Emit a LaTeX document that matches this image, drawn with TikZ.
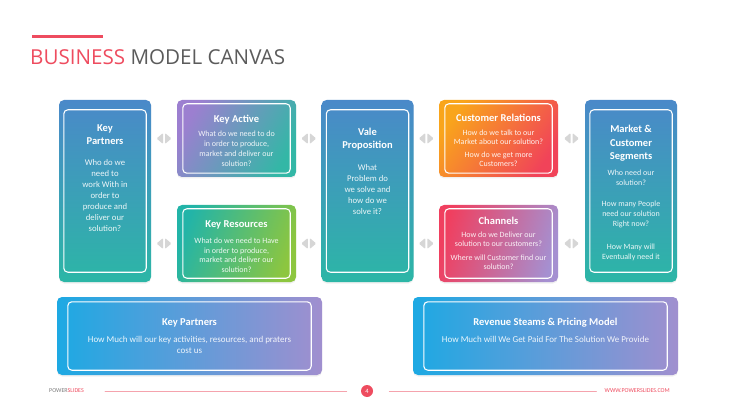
\documentclass[tikz,border=0pt]{standalone}
\usepackage{fontspec}
\setmainfont{Carlito}
\newfontfamily\headfont{Open Sans}
\usetikzlibrary{positioning,calc,shadows}
\definecolor{tallTop}{HTML}{4A89C9}
\definecolor{tallBot}{HTML}{2CB6A6}
\definecolor{kaL}{HTML}{9C7FD0}
\definecolor{kaR}{HTML}{33B7A6}
\definecolor{krL}{HTML}{22B4A8}
\definecolor{krR}{HTML}{8DC63F}
\definecolor{crL}{HTML}{F9A51B}
\definecolor{crR}{HTML}{F14359}
\definecolor{chL}{HTML}{F03F5F}
\definecolor{chR}{HTML}{A590D1}
\definecolor{wideL}{HTML}{1DA9E3}
\definecolor{wideR}{HTML}{A08FCF}
\definecolor{titlered}{HTML}{EE4C5F}
\definecolor{titlegray}{HTML}{5B5B5B}
\definecolor{linkgray}{HTML}{D6D6D6}
\definecolor{pinkline}{HTML}{F5A3AD}
\begin{document}
\begin{tikzpicture}[x=1pt,y=-1pt,line join=round,line cap=round,
    box/.style={rounded corners=5pt,inner sep=0pt,
        drop shadow={opacity=.12,shadow xshift=0pt,shadow yshift=-1.5pt}},
    tall/.style={box,minimum width=92pt,minimum height=182pt,top color=tallTop,bottom color=tallBot},
    small/.style={box,minimum width=119pt,minimum height=77pt},
    wide/.style={box,minimum width=265pt,minimum height=78pt,left color=wideL,right color=wideR},
    frame/.style={draw=white,line width=1.1pt,rounded corners=4pt},
    head/.style={anchor=north,inner sep=0pt,text=white,align=center,font=\fontsize{10.5}{13}\selectfont\bfseries},
    body/.style={anchor=north,inner sep=0pt,text=white,text opacity=.9,align=center,font=\fontsize{8}{9.5}\selectfont},
    tallbody/.style={body,font=\fontsize{8.7}{11}\selectfont},
    widebody/.style={body,font=\fontsize{9}{11}\selectfont},
    link/.style={fill=linkgray,rounded corners=1pt},
    pinkrule/.style={draw=pinkline,line width=.6pt}]
\useasboundingbox (0,0) rectangle (736,414);
% title
\draw[titlered,line width=3pt,line cap=butt] (32,37) -- (103,37);
\node[anchor=base west,inner sep=0pt,font=\headfont\fontsize{20.6}{24}\selectfont] (title) at (30,65)
    {\textcolor{titlered}{BUSINESS} \textcolor{titlegray}{MODEL CANVAS}};
% boxes
\node[tall] (kp) at (105,191) {};
\node[small,left color=kaL,right color=kaR,shading angle=60] (ka) at (236.5,138.5) {};
\node[small,left color=krL,right color=krR,shading angle=70] (kr) at (236.5,243.5) {};
\node[tall] (vp) at (367.5,191) {};
\node[small,left color=crL,right color=crR,shading angle=55] (cr) at (498.5,138.5) {};
\node[small,left color=chL,right color=chR,shading angle=75] (ch) at (498.5,243.5) {};
\node[tall] (ms) at (631,191) {};
\node[wide] (cs) at (189.5,336) {};
\node[wide] (rv) at (545.5,336) {};
% white frames
\draw[frame]
    ([shift={(5,10)}]kp.north west) rectangle ([shift={(-5,-10)}]kp.south east)
    ([shift={(5,10)}]vp.north west) rectangle ([shift={(-5,-10)}]vp.south east)
    ([shift={(5,10)}]ms.north west) rectangle ([shift={(-5,-10)}]ms.south east)
    ([shift={(6,4)}]ka.north west) rectangle ([shift={(-6,-4)}]ka.south east)
    ([shift={(6,4)}]kr.north west) rectangle ([shift={(-6,-4)}]kr.south east)
    ([shift={(6,4)}]cr.north west) rectangle ([shift={(-6,-4)}]cr.south east)
    ([shift={(6,4)}]ch.north west) rectangle ([shift={(-6,-4)}]ch.south east)
    ([shift={(11,5)}]cs.north west) rectangle ([shift={(-11,-5)}]cs.south east)
    ([shift={(11,5)}]rv.north west) rectangle ([shift={(-11,-5)}]rv.south east)
    ;
% texts
\node[head] (kp-head) at ($(kp.north)+(0,24.5)$) {Key\\Partners};
\node[tallbody] (kp-text) at ($(kp.north)+(0,59)$)
    {Who do we\\need to\\work With in\\order to\\produce and\\deliver our\\solution?};
\node[head] (ka-head) at ($(ka.north)+(0,15.4)$) {Key Active};
\node[body,font=\fontsize{8}{10}\selectfont] (ka-text) at ($(ka.north)+(0,31)$)
    {What do we need to do\\in order to produce,\\market and deliver our\\solution?};
\node[head] (kr-head) at ($(kr.north)+(0,15.4)$) {Key Resources};
\node[body] (kr-text) at ($(kr.north)+(0,33)$)
    {What do we need to Have\\in order to produce,\\market and deliver our\\solution?};
\node[head] (vp-head) at ($(vp.north)+(0,28.4)$) {Vale\\Proposition};
\node[tallbody] (vp-text) at ($(vp.north)+(0,64)$)
    {What\\Problem do\\we solve and\\how do we\\solve it?};
\node[head] (cr-head) at ($(cr.north)+(0,14.4)$) {Customer Relations};
\node[body,font=\fontsize{8}{9}\selectfont] (cr-text) at ($(cr.north)+(0,30)$)
    {How do we talk to our\\Market about our solution?\\[4pt]How do we get more\\Customers?};
\node[head] (ch-head) at ($(ch.north)+(0,12.4)$) {Channels};
\node[body,font=\fontsize{8}{9}\selectfont] (ch-text) at ($(ch.north)+(0,27)$)
    {How do we Deliver our\\solution to our customers?\\[5pt]Where will Customer find our\\solution?};
\node[head,font=\fontsize{10.5}{13.5}\selectfont\bfseries] (ms-head) at ($(ms.north)+(0,25.4)$)
    {Market \&\\Customer\\Segments};
\node[body,font=\fontsize{8}{10}\selectfont] (ms-text) at ($(ms.north)+(0,69.5)$)
    {Who need our\\solution?\\[11pt]How many People\\need our solution\\Right now?\\[13pt]How Many will\\Eventually need it};
\node[head] (cs-head) at ($(cs.north)+(0,21.4)$) {Key Partners};
\node[widebody] (cs-text) at ($(cs.north)+(0,39.4)$)
    {How Much will our key activities, resources, and praters\\cost us};
\node[head] (rv-head) at ($(rv.north)+(0,21.4)$) {Revenue Steams \& Pricing Model};
\node[widebody] (rv-text) at ($(rv.north)+(0,39.4)$)
    {How Much will We Get Paid For The Solution We Provide};
% links between boxes
\coordinate (l1) at ($(kp.east |- ka.west)!.5!(ka.west)$);
\coordinate (l2) at ($(kp.east |- kr.west)!.5!(kr.west)$);
\coordinate (l3) at ($(ka.east)!.5!(vp.west |- ka.east)$);
\coordinate (l4) at ($(kr.east)!.5!(vp.west |- kr.east)$);
\coordinate (l5) at ($(vp.east |- cr.west)!.5!(cr.west)$);
\coordinate (l6) at ($(vp.east |- ch.west)!.5!(ch.west)$);
\coordinate (l7) at ($(cr.east)!.5!(ms.west |- cr.east)$);
\coordinate (l8) at ($(ch.east)!.5!(ms.west |- ch.east)$);
\foreach \l in {l1,l2,l3,l4,l5,l6,l7,l8}{
    \fill[link] ([xshift=-1pt]\l) ++(0,-5.5) -- ++(0,11) -- ++(-6.5,-5.5) -- cycle;
    \fill[link] ([xshift=1pt]\l) ++(0,-5.5) -- ++(0,11) -- ++(6.5,-5.5) -- cycle;
}
% footer
\node[anchor=west,inner sep=0pt,font=\fontsize{6}{7}\selectfont] (brand) at (49,391)
    {\textcolor{titlegray!80}{POWER}\textcolor{titlered}{SLIDES}};
\node[circle,fill=titlered,minimum size=12pt,inner sep=0pt,text=white,font=\fontsize{6.5}{7}\selectfont] (page) at (367,391) {4};
\node[anchor=east,inner sep=0pt,text=titlered,font=\fontsize{6}{7}\selectfont] (web) at (670,391) {WWW.POWERSLIDES.COM};
\draw[pinkrule]
    ([xshift=21pt]brand.east) -- ([xshift=-14pt]page.west)
    ([xshift=16pt]page.east) -- ([xshift=-8pt]web.west);
\end{tikzpicture}
\end{document}
